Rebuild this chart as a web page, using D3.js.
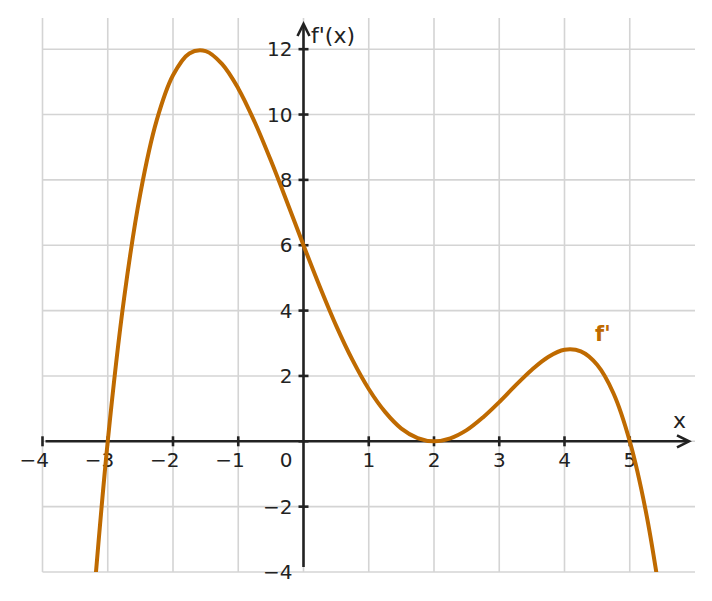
<!DOCTYPE html>
<html><head><meta charset="utf-8">
<script src="https://cdn.jsdelivr.net/npm/d3@7"></script>
<style>body{margin:0;background:#fff;} svg{display:block;font-family:"DejaVu Sans",sans-serif;}</style>
</head><body>
<svg id="c" width="712" height="601"></svg>
<script>
const xs = [-3.25,-3,-2.75,-2.5,-2.25,-2,-1.75,-1.5,-1.25,-1,-0.75,-0.5,-0.25,0,0.25,0.5,0.75,1,1.25,1.5,1.75,2,2.25,2.5,2.75,3,3.25,3.5,3.75,4,4.25,4.5,4.75,5,5.25,5.5];
const ys = [-5.68,0,4.37,7.59,9.82,11.2,11.87,11.94,11.55,10.8,9.78,8.59,7.31,6,4.73,3.54,2.49,1.6,0.9,0.39,0.1,0,0.09,0.34,0.73,1.2,1.71,2.19,2.58,2.8,2.75,2.34,1.47,0,-2.18,-5.21];
const xTicks = [-4,-3,-2,-1,1,2,3,4,5];
const yTicks = [-2,2,4,6,8,10,12];
const xGrid = [-4,-3,-2,-1,0,1,2,3,4,5];
const yGrid = [-4,-2,0,2,4,6,8,10,12];
const yTickLabels = [-4,-2,2,4,6,8,10,12];

const svg = d3.select("#c");
const x = d3.scaleLinear().domain([-4,6]).range([42.5,695]);
const y = d3.scaleLinear().domain([-4,13]).range([572,16.5]);
const axisCol = "#222", gridCol = "#d4d4d4", curveCol = "#bf6a00";
const fmt = v => v < 0 ? "\u2212" + Math.abs(v) : String(v);
const FS = 20;

// grid
svg.append("g").selectAll("line").data(xGrid).join("line")
  .attr("x1", d=>x(d)).attr("x2", d=>x(d)).attr("y1", 18).attr("y2", y(-4))
  .attr("stroke", gridCol).attr("stroke-width", 1.6);
svg.append("g").selectAll("line").data(yGrid).join("line")
  .attr("x1", x(-4)).attr("x2", 695).attr("y1", d=>y(d)).attr("y2", d=>y(d))
  .attr("stroke", gridCol).attr("stroke-width", 1.6);

// axes
const ax = svg.append("g").attr("stroke", axisCol).attr("stroke-width", 2.6).attr("fill","none");
ax.append("line").attr("x1", x(-4)+3).attr("x2", 688).attr("y1", y(0)).attr("y2", y(0));
ax.append("line").attr("x1", x(0)).attr("x2", x(0)).attr("y1", y(-3.85)).attr("y2", 24);
ax.append("path").attr("d", `M${x(0)-6},${36} L${x(0)},${24} L${x(0)+6},${36}`);
ax.append("path").attr("d", `M${677},${y(0)-6} L${689},${y(0)} L${677},${y(0)+6}`);
ax.selectAll(".xt").data(xTicks).join("line").attr("class","xt")
  .attr("x1", d=>x(d)).attr("x2", d=>x(d)).attr("y1", y(0)-5).attr("y2", y(0)+5);
ax.selectAll(".yt").data(yTicks).join("line").attr("class","yt")
  .attr("x1", x(0)-5).attr("x2", x(0)+5).attr("y1", d=>y(d)).attr("y2", d=>y(d));
ax.append("line").attr("x1", x(0)-5).attr("x2", x(0)+5).attr("y1", y(0)).attr("y2", y(0));

// tick labels (digits centred on tick, minus sign hanging left)
const lab = svg.append("g").attr("fill", axisCol).attr("font-size", FS);
lab.selectAll(".xl").data(xTicks).join("text")
  .attr("x", d=>x(d) - (d < 0 ? 0.838*FS/2 : 0)).attr("y", y(0)+26).attr("text-anchor","middle").text(fmt);
lab.selectAll(".yl").data(yTickLabels).join("text")
  .attr("x", x(0)-11).attr("y", d=>y(d)+7).attr("text-anchor","end").text(fmt);
lab.append("text").attr("x", x(0)-11).attr("y", y(0)+26).attr("text-anchor","end").text("0");

// axis titles
svg.append("text").attr("x", 311).attr("y", 43).attr("font-size", 22).attr("fill", axisCol).text("f'(x)");
svg.append("text").attr("x", 679.5).attr("y", 428).attr("font-size", 22).attr("fill", axisCol).attr("text-anchor","middle").text("x");

// curve
svg.append("clipPath").attr("id","clip").append("rect")
  .attr("x", x(-4)).attr("y", 10).attr("width", 695-x(-4)).attr("height", y(-4)-10);
const pts = xs.map((v,i)=>[v, ys[i]]);
svg.append("path").datum(pts).attr("clip-path","url(#clip)")
  .attr("d", d3.line().x(d=>x(d[0])).y(d=>y(d[1])).curve(d3.curveCatmullRom.alpha(0.5)))
  .attr("fill","none").attr("stroke", curveCol).attr("stroke-width", 4);

svg.append("text").attr("x", 595).attr("y", 341).attr("font-size", 21).attr("font-weight","bold")
  .attr("fill", curveCol).text("f'");
</script>
</body></html>
